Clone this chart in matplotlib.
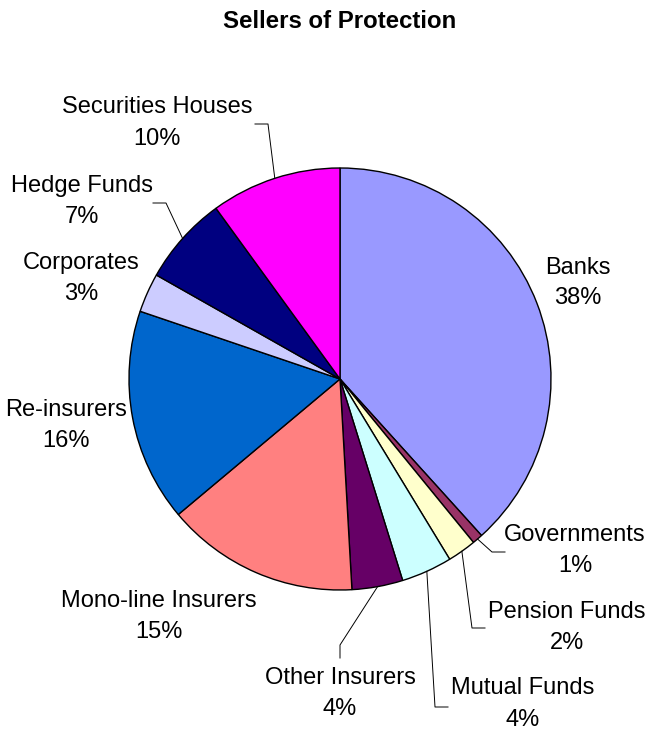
import matplotlib.pyplot as plt
import numpy as np

plt.rcParams['font.family'] = ['Liberation Sans', 'DejaVu Sans']

# share of protection sold, percent (clockwise from 12 o'clock)
sellers = ["Banks", "Governments", "Pension Funds", "Mutual Funds", "Other Insurers",
           "Mono-line Insurers", "Re-insurers", "Corporates", "Hedge Funds",
           "Securities Houses"]
shares = [38.3, 0.8, 2.2, 3.9, 3.9, 14.8, 16.3, 3.0, 6.8, 10.0]
colors = ["#9999FF", "#993366", "#FFFFCC", "#CCFFFF", "#660066",
          "#FF8080", "#0066CC", "#CCCCFF", "#000080", "#FF00FF"]

W, H = 650, 732
fig = plt.figure(figsize=(W / 100, H / 100), dpi=100)
ax = fig.add_axes([0, 0, 1, 1])

cx, cy, R = 340, H - 379, 211
ax.pie(shares, colors=colors, startangle=90, counterclock=False,
       center=(cx, cy), radius=R, frame=True,
       wedgeprops=dict(edgecolor='black', linewidth=1.0))
ax.set_xlim(0, W)
ax.set_ylim(0, H)
ax.set_aspect('equal')
ax.axis('off')

# label placement in pixels from top-left: (x, y of name line, y of pct line)
label_pos = {
    "Banks": (578, 268, 298),
    "Governments": (575, 535, 566),
    "Pension Funds": (567, 612, 643),
    "Mutual Funds": (523, 688, 720),
    "Other Insurers": (340, 678, 709),
    "Mono-line Insurers": (159, 601, 632),
    "Re-insurers": (66, 410, 441),
    "Corporates": (81, 263, 294),
    "Hedge Funds": (82, 186, 217),
    "Securities Houses": (157, 107, 139),
}
# leader line waypoints (pixels) from pie edge to the label
leaders = {
    "Governments": [(492, 552), (505, 552)],
    "Pension Funds": [(472, 628), (485, 628)],
    "Mutual Funds": [(435, 707), (448, 707)],
    "Other Insurers": [(340, 645), (340, 658)],
    "Hedge Funds": [(166, 203), (153, 203)],
    "Securities Houses": [(268, 124), (255, 124)],
}

cum = np.cumsum([0] + shares)
total = cum[-1]
for i, name in enumerate(sellers):
    x, y1, y2 = label_pos[name]
    ax.text(x, H - y1, name, ha='center', va='center', fontsize=17)
    ax.text(x, H - y2, f"{round(shares[i]):.0f}%", ha='center', va='center', fontsize=17)
    if name in leaders:
        mid = (cum[i] + cum[i + 1]) / 2 / total * 2 * np.pi
        ex, ey = cx + R * np.sin(mid), cy + R * np.cos(mid)
        pts = [(ex, ey)] + [(px, H - py) for px, py in leaders[name]]
        ax.plot([p[0] for p in pts], [p[1] for p in pts], color='black', lw=0.7)

ax.text(340, H - 21, "Sellers of Protection", ha='center', va='center',
        fontsize=17.3, fontweight='bold')

fig.savefig("out.png", dpi=100)
